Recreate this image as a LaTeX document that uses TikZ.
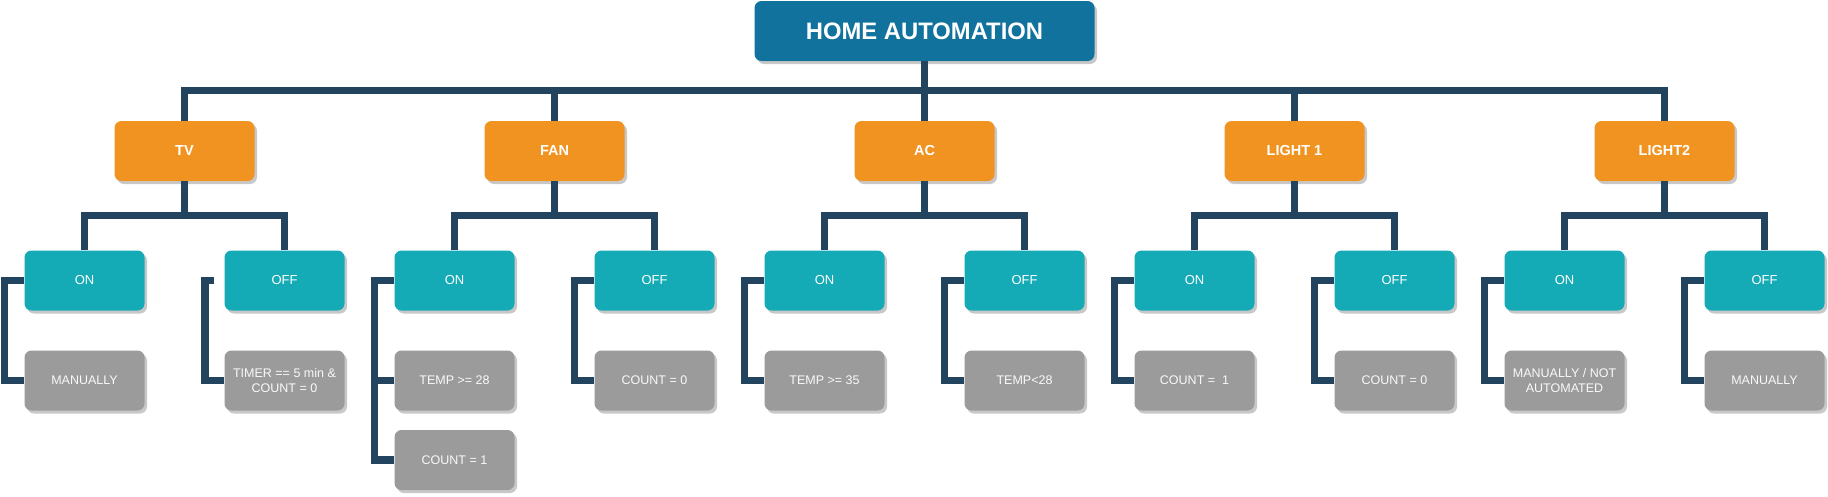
\documentclass[tikz,border=0pt]{standalone}
\usepackage{fontspec}
\setmainfont{Liberation Sans}
\usetikzlibrary{shadows,calc}
\definecolor{navy}{RGB}{35,68,95}
\definecolor{homeblue}{RGB}{17,114,158}
\definecolor{orng}{RGB}{241,147,32}
\definecolor{teal2}{RGB}{20,170,182}
\definecolor{greybox}{RGB}{155,155,155}
\definecolor{shadowgray}{RGB}{200,200,200}
\begin{document}
\begin{tikzpicture}[x=1pt,y=-1pt,
  box/.style={rounded corners=7pt, inner sep=0pt, minimum height=60pt, align=center, text=white,
    drop shadow={shadow xshift=2.5pt, shadow yshift=-3pt, fill=shadowgray, opacity=1}},
  homebox/.style={box, fill=homeblue, minimum width=340pt, font=\fontsize{23.8}{26}\selectfont\bfseries},
  devbox/.style={box, fill=orng, minimum width=140pt, font=\fontsize{14.5}{17}\selectfont\bfseries},
  statebox/.style={box, fill=teal2, minimum width=120pt, font=\fontsize{13}{15}\selectfont},
  leafbox/.style={box, fill=greybox, minimum width=120pt, text=white!95!gray, font=\fontsize{12.5}{15}\selectfont},
  conn/.style={draw=navy, line width=7.5pt}
]
\useasboundingbox (0,0) rectangle (1828,496);
\fill[white] (0,0) rectangle (1828,496);
\coordinate (bus) at (0,90.5);
\coordinate (kb) at (0,215.5);

\node[homebox] (home) at (924.5,31) {HOME AUTOMATION};

\node[devbox] (tv)  at (184.5,151) {TV};
\node[devbox] (fan) at (554.5,151) {FAN};
\node[devbox] (ac)  at (924.5,151) {AC};
\node[devbox] (la)  at (1294.5,151) {LIGHT 1};
\node[devbox] (lb)  at (1664.5,151) {LIGHT2};

\node[statebox] (tvon)   at (84.5,280.5) {ON};
\node[statebox] (tvoff)  at (284.5,280.5) {OFF};
\node[statebox] (fanon)  at (454.5,280.5) {ON};
\node[statebox] (fanoff) at (654.5,280.5) {OFF};
\node[statebox] (acon)   at (824.5,280.5) {ON};
\node[statebox] (acoff)  at (1024.5,280.5) {OFF};
\node[statebox] (laon)   at (1194.5,280.5) {ON};
\node[statebox] (laoff)  at (1394.5,280.5) {OFF};
\node[statebox] (lbon)   at (1564.5,280.5) {ON};
\node[statebox] (lboff)  at (1764.5,280.5) {OFF};

\node[leafbox] (tvonA)   at (84.5,380.5) {MANUALLY};
\node[leafbox] (tvoffA)  at (284.5,380.5) {TIMER == 5 min \&\\COUNT = 0};
\node[leafbox] (fanonA)  at (454.5,380.5) {TEMP >= 28};
\node[leafbox] (fanonB)  at (454.5,460) {COUNT = 1};
\node[leafbox] (fanoffA) at (654.5,380.5) {COUNT = 0};
\node[leafbox] (aconA)   at (824.5,380.5) {TEMP >= 35};
\node[leafbox] (acoffA)  at (1024.5,380.5) {TEMP<28};
\node[leafbox] (laonA)   at (1194.5,380.5) {COUNT =\ \ 1};
\node[leafbox] (laoffA)  at (1394.5,380.5) {COUNT = 0};
\node[leafbox] (lbonA)   at (1564.5,380.5) {MANUALLY / NOT\\AUTOMATED};
\node[leafbox] (lboffA)  at (1764.5,380.5) {MANUALLY};

% top level bus
\draw[conn] (home.south) -- (home.south |- bus);
\draw[conn] (tv.north) |- (bus -| lb.north) -- (lb.north);
\draw[conn] (fan.north) -- (fan.north |- bus);
\draw[conn] (ac.north) -- (ac.north |- bus);
\draw[conn] (la.north) -- (la.north |- bus);

% device to states
\foreach \p/\a/\b in {tv/tvon/tvoff, fan/fanon/fanoff, ac/acon/acoff, la/laon/laoff, lb/lbon/lboff}{
  \draw[conn] (\p.south) -- (\p.south |- kb);
  \draw[conn] (\a.north) |- (kb -| \b.north) -- (\b.north);
}

% states to conditions
\draw[conn] (tvon.west) -- ++(-20,0) |- (tvonA.west);
\coordinate (tvoffS) at ($(tvoff.west)+(-10,0)$);
\draw[conn] (tvoffS) -- ++(-9.5,0) |- (tvoffA.west);
\draw[conn] (fanon.west) -- ++(-20,0) |- (fanonB.west);
\draw[conn] (fanonA.west) -- ++(-20,0);
\draw[conn] (fanoff.west) -- ++(-20,0) |- (fanoffA.west);
\draw[conn] (acon.west) -- ++(-20,0) |- (aconA.west);
\draw[conn] (acoff.west) -- ++(-20,0) |- (acoffA.west);
\draw[conn] (laon.west) -- ++(-20,0) |- (laonA.west);
\draw[conn] (laoff.west) -- ++(-20,0) |- (laoffA.west);
\draw[conn] (lbon.west) -- ++(-20,0) |- (lbonA.west);
\draw[conn] (lboff.west) -- ++(-20,0) |- (lboffA.west);
\end{tikzpicture}
\end{document}
